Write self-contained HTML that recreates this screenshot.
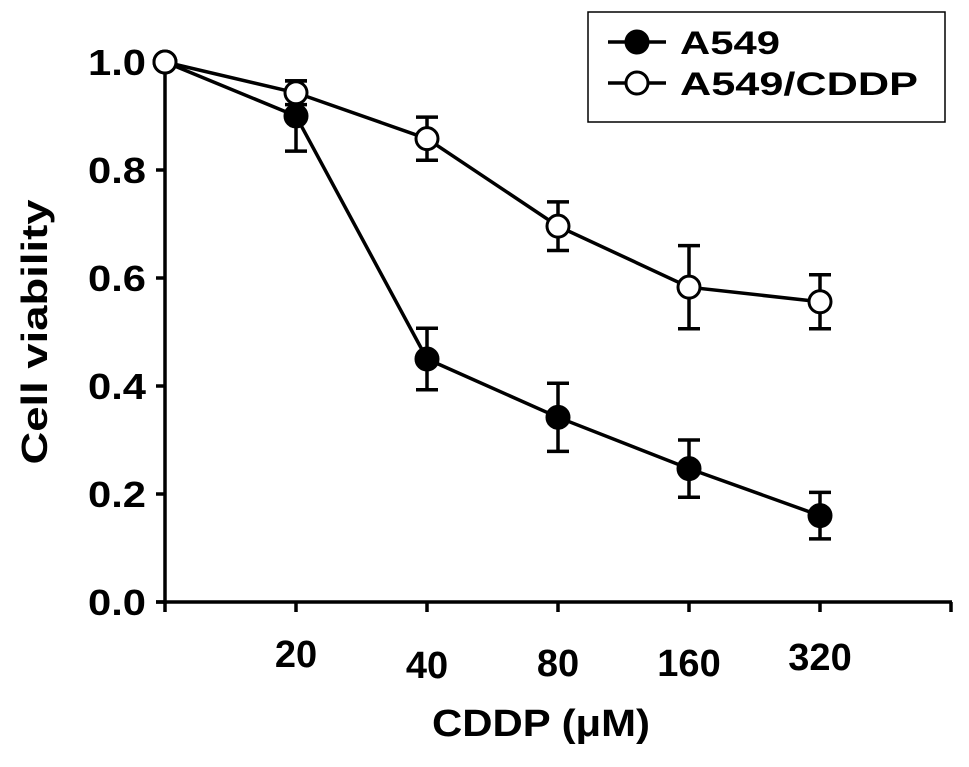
<!DOCTYPE html>
<html><head><meta charset="utf-8"><style>
body{margin:0;background:#fff;}
svg{display:block;font-family:"Liberation Sans",Arial,sans-serif;font-weight:bold;}
</style></head><body>
<svg width="969" height="767" viewBox="0 0 969 767">
<g id="plot"></g>
</svg>
<script>
const categories=["0","20","40","80","160","320"];
const a549=[1.0,0.90,0.45,0.342,0.247,0.16];
const a549Err=[0,0.065,0.057,0.063,0.053,0.043];
const cddp=[1.0,0.943,0.858,0.696,0.583,0.556];
const cddpErr=[0,0.022,0.04,0.045,0.077,0.05];
const yTicks=[0,0.2,0.4,0.6,0.8,1.0];
const xLabels=["20","40","80","160","320"];
const xLabelY=[653,664,662,662,656];

const NS="http://www.w3.org/2000/svg";
const g=document.getElementById('plot');
const x0=165,dx=131,yBase=602,yScale=540;
const X=i=>x0+i*dx, Y=v=>yBase-v*yScale;
function el(t,a){const e=document.createElementNS(NS,t);for(const k in a)e.setAttribute(k,a[k]);g.appendChild(e);return e;}

let e;
e=el('line',{x1:x0,y1:Y(1.0)-2,x2:x0,y2:yBase+2,stroke:'#000','stroke-width':3.5});


e=el('line',{x1:x0-9,y1:yBase,x2:X(6)+1,y2:yBase,stroke:'#000','stroke-width':3.5});


yTicks.forEach(v=>{
 e=el('line',{x1:x0-9,y1:Y(v),x2:x0,y2:Y(v),stroke:'#000','stroke-width':3.5});
 
 
 e=el('text',{x:146,y:Y(v)+13,'text-anchor':'end','font-size':36,textLength:58,lengthAdjust:'spacingAndGlyphs'});
 e.textContent=v.toFixed(1);
 
 
});
for(let i=0;i<=6;i++){
 e=el('line',{x1:X(i),y1:yBase,x2:X(i),y2:yBase+10,stroke:'#000','stroke-width':3.5});
 
 
}
xLabels.forEach((l,i)=>{
 e=el('text',{x:X(i+1),y:xLabelY[i]+14,'text-anchor':'middle','font-size':38});
 e.textContent=l;
 
 
});
e=el('text',{x:541,y:736,'text-anchor':'middle','font-size':38,textLength:218,lengthAdjust:'spacingAndGlyphs'});
e.textContent='CDDP (μM)';


e=el('text',{x:0,y:0,'text-anchor':'middle','font-size':36,textLength:265,lengthAdjust:'spacingAndGlyphs',transform:'translate(47,332) rotate(-90)'});
e.textContent='Cell viability';



function series(vals,errs,fill,name){
 const pts=vals.map((v,i)=>X(i)+','+Y(v)).join(' ');
 e=el('polyline',{points:pts,fill:'none',stroke:'#000','stroke-width':3.5});
 
 
 vals.forEach((v,i)=>{
  if(errs[i]>0){
   const t=Y(v+errs[i]),b=Y(v-errs[i]);
   e=el('path',{d:`M${X(i)},${t}V${b}M${X(i)-11},${t}H${X(i)+11}M${X(i)-11},${b}H${X(i)+11}`,stroke:'#000','stroke-width':3.5,fill:'none'});
   
   
  }
 });
 vals.forEach((v,i)=>{
  e=el('circle',{cx:X(i),cy:Y(v),r:11,fill:fill,stroke:'#000','stroke-width':3});
  
  
 });
}
series(a549,a549Err,'#000','a549');
series(cddp,cddpErr,'#fff','a549-cddp');

e=el('rect',{x:588,y:12,width:357,height:110,fill:'#fff',stroke:'#000','stroke-width':1.5});


[['A549','#000',42,100],['A549/CDDP','#fff',83,238]].forEach(([t,f,y,w])=>{
 e=el('line',{x1:608,y1:y,x2:666,y2:y,stroke:'#000','stroke-width':3.5});
 
 
 e=el('circle',{cx:637,cy:y,r:11,fill:f,stroke:'#000','stroke-width':3});
 
 
 e=el('text',{x:680,y:y+12,'font-size':32,textLength:w,lengthAdjust:'spacingAndGlyphs'});
 e.textContent=t;
 
 
});
</script>
</body></html>
